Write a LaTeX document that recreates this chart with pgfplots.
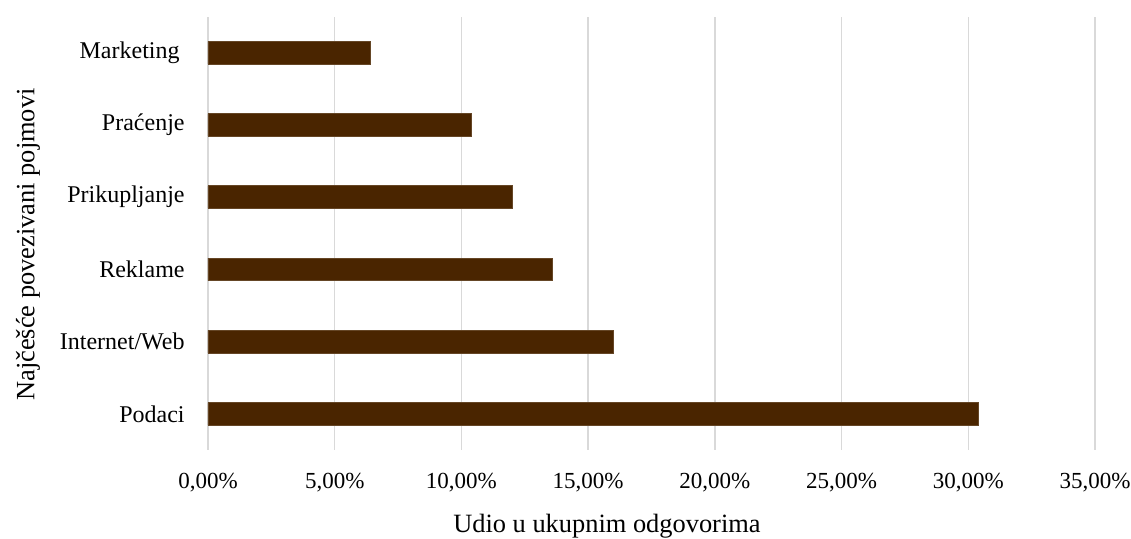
\documentclass[border=0pt,12pt]{standalone}
\usepackage{fontspec}
\setmainfont{Liberation Serif}
\usepackage{pgfplots}
\pgfplotsset{compat=1.18}
\definecolor{barc}{HTML}{4A2500}
\definecolor{gridc}{HTML}{D9D9D9}
\begin{document}
\begin{tikzpicture}
\useasboundingbox (0,0) rectangle (565.5pt,269.5pt);
\begin{axis}[
  at={(104pt,44.5pt)}, anchor=south west,
  scale only axis, width=443.5pt, height=216.75pt,
  xbar, bar width=11.35pt,
  xmin=0, xmax=35, ymin=-0.5, ymax=5.5,
  xtick={0,5,...,35},
  xticklabels={{0,00\%},{5,00\%},{10,00\%},{15,00\%},{20,00\%},{25,00\%},{30,00\%},{35,00\%}},
  ytick={0,...,5},
  yticklabels={Podaci,Internet/Web,Reklame,Prikupljanje,Praćenje,{Marketing\kern2.5pt}},
  axis line style={draw=none},
  major tick length=0pt,
  xmajorgrids, grid style={gridc, line width=0.75pt},
  yticklabel style={xshift=-7.5pt},
  xticklabel style={yshift=-7.5pt, font=\fontsize{11.5pt}{13pt}\selectfont},
  xlabel={Udio u ukupnim odgovorima},
  ylabel={Najčešće povezivani pojmovi},
  xlabel style={at={(axis description cs:0.4498,-0.1908)}, anchor=base, font=\fontsize{13.2pt}{15pt}\selectfont},
  ylabel style={at={(axis description cs:-0.2029,0.474)}, anchor=center, font=\fontsize{13.2pt}{15pt}\selectfont},
]
\addplot[fill=barc, draw=barc!85!white, line width=0.3pt] coordinates {
  (30.4,0) (16.0,1) (13.6,2) (12.0,3) (10.4,4) (6.4,5)
};
\end{axis}
\end{tikzpicture}
\end{document}
